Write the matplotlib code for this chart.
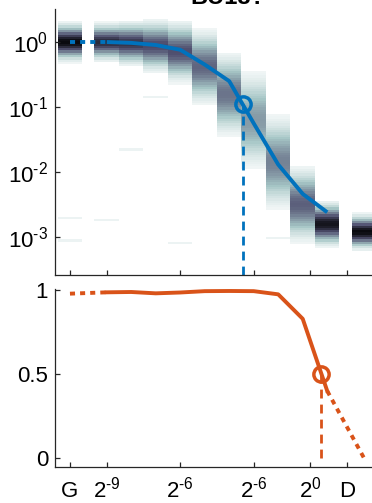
import matplotlib
matplotlib.use('Agg')
import matplotlib.pyplot as plt
import numpy as np

plt.rcParams['font.family'] = 'Liberation Sans'
plt.rcParams['mathtext.fontset'] = 'custom'
plt.rcParams['mathtext.rm'] = 'Liberation Sans'
plt.rcParams['mathtext.it'] = 'Liberation Sans:italic'
plt.rcParams['mathtext.bf'] = 'Liberation Sans:bold'

blue = '#0072BD'
orange = '#D95319'
axcol = '#262626'

# column positions: G, ten scale steps, D
x_g = 0.0
x_steps = [1.5, 2.5, 3.5, 4.5, 5.5, 6.5, 7.5, 8.5, 9.5, 10.5]
x_d = 12.0

# per-column distribution of the top panel (log10 centre, spread, peak darkness)
hist_x = [0.0, 1.5, 2.5, 3.5, 4.5, 5.5, 6.5, 7.5, 8.5, 9.5, 10.5, 12.0]
hist_center = [0.0, 0.0, -0.02, -0.06, -0.15, -0.38, -0.8, -1.2, -1.85, -2.5, -2.8, -2.92]
hist_spread = [0.13, 0.13, 0.15, 0.18, 0.21, 0.26, 0.29, 0.35, 0.33, 0.26, 0.15, 0.12]
hist_peak = [1.0, 0.85, 0.8, 0.7, 0.68, 0.6, 0.55, 0.42, 0.5, 0.62, 0.95, 1.0]

# isolated faint bins
faint_x = [0.0, 0.0, 1.5, 2.5, 3.5, 4.5, 8.5]
faint_y = [-2.7, -3.05, -2.75, -1.65, -0.85, -3.1, -3.0]

# mean curve, top panel
top_g = 1.0
top_vals = [1.0, 0.97, 0.90, 0.76, 0.45, 0.25, 0.056, 0.013, 0.0046, 0.0024]
top_mark_x = 7.05
top_mark_y = 0.11

# bottom panel curve
bot_g = 0.98
bot_vals = [0.988, 0.99, 0.982, 0.987, 0.995, 0.996, 0.995, 0.976, 0.83, 0.40]
bot_d = 0.0
bot_mark_x = 10.24
bot_mark_y = 0.5

tick_pos = [0, 1.5, 4.5, 7.5, 9.8, 11.3]
tick_lab = ['G', r'$2^{\text{-9}}$', r'$2^{\text{-6}}$', r'$2^{\text{-6}}$', '$2^{0}$', 'D']

fig = plt.figure(figsize=(3.72, 5.03), dpi=100)
ax1 = fig.add_axes([0.1478, 0.4533, 0.9274, 0.5288])
ax2 = fig.add_axes([0.1478, 0.0722, 0.9274, 0.3523])

# heatmap columns
edges = np.arange(-3.7, 0.65, 0.035)
mids = (edges[:-1] + edges[1:]) / 2
for xc, c, s, p in zip(hist_x, hist_center, hist_spread, hist_peak):
    dens = p * np.exp(-0.5 * ((mids - c) / s) ** 2)
    dens[dens < 0.045] = 0
    for fx, fy in zip(faint_x, faint_y):
        if fx == xc:
            dens[np.argmin(abs(mids - fy))] += 0.06
    ax1.pcolormesh([xc - 0.5, xc + 0.5], 10 ** edges, dens[:, None],
                   cmap='bone_r', vmin=0, vmax=1.05, shading='flat')

ax1.plot([x_g, x_steps[0]], [top_g, top_vals[0]], color=blue, lw=2.8,
         ls=(0, (1.3, 1.3)))
ax1.plot(x_steps, top_vals, color=blue, lw=2.8, solid_capstyle='butt')
ax1.plot([top_mark_x, top_mark_x], [10 ** -3.585, top_mark_y], color=blue,
         lw=2, ls=(0, (3.2, 2.2)))
ax1.plot(top_mark_x, top_mark_y, 'o', ms=11, mfc='none', mec=blue, mew=2.5)

ax1.set_yscale('log')
ax1.set_ylim(10 ** -3.585, 10 ** 0.508)
ax1.set_yticks([1e-3, 1e-2, 1e-1, 1])
ax1.set_yticklabels([r'$10^{\text{-3}}$', r'$10^{\text{-2}}$',
                     r'$10^{\text{-1}}$', '$10^{0}$'])
ax1.minorticks_off()
ax1.set_xticks(tick_pos)
ax1.set_xticklabels([])
ax1.set_title('BU18?', fontsize=17, fontweight='bold', pad=3.5)

# bottom panel
ax2.plot([x_g, x_steps[0]], [bot_g, bot_vals[0]], color=orange, lw=2.8,
         ls=(0, (1.3, 1.3)))
ax2.plot(x_steps, bot_vals, color=orange, lw=2.8)
ax2.plot([x_steps[-1], x_d], [bot_vals[-1], bot_d], color=orange, lw=2.8,
         ls=(0, (1.3, 1.3)))
ax2.plot([bot_mark_x, bot_mark_x], [0, bot_mark_y], color=orange, lw=2,
         ls=(0, (3.2, 2.2)))
ax2.plot(bot_mark_x, bot_mark_y, 'o', ms=11, mfc='none', mec=orange, mew=2.5)
ax2.set_ylim(-0.052, 1.005)
ax2.set_yticks([0, 0.5, 1])
ax2.set_yticklabels(['0', '0.5', '1'])
ax2.set_xticks(tick_pos)
ax2.set_xticklabels(tick_lab)
for lab in ax2.get_xticklabels():
    lab.set_va('baseline')

for ax in (ax1, ax2):
    ax.set_xlim(-0.612, 13.47)
    for side in ('top', 'right'):
        ax.spines[side].set_visible(False)
    for side in ('left', 'bottom'):
        ax.spines[side].set_color(axcol)
        ax.spines[side].set_linewidth(0.9)
    ax.tick_params(direction='in', length=3.5, width=0.9, color=axcol,
                   labelcolor='black', labelsize=16)
    ax.tick_params(axis='y', pad=5)
ax2.tick_params(axis='x', pad=22)

fig.savefig('out.png', dpi=100)
